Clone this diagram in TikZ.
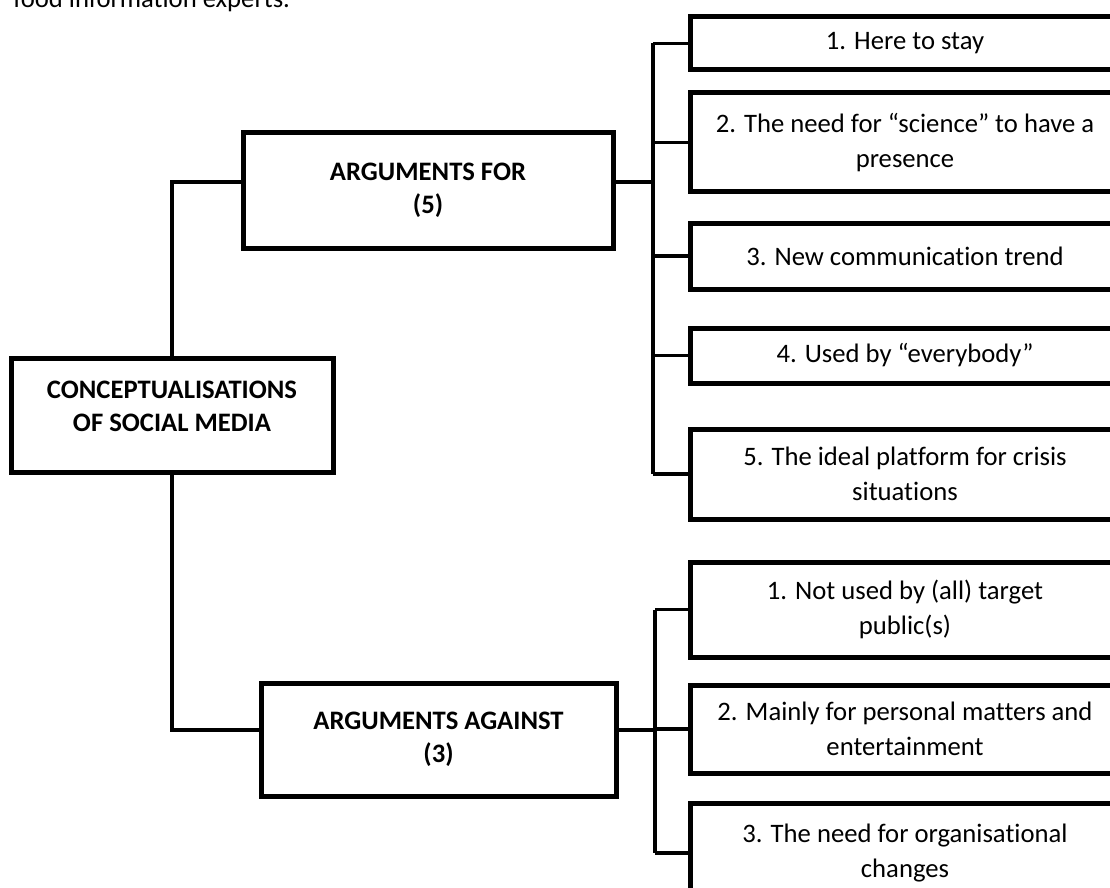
\documentclass[tikz,border=0pt]{standalone}
\usepackage{fontspec}
\setmainfont[Ligatures=NoCommon]{Carlito}
\usetikzlibrary{positioning,calc}

\begin{document}
\begin{tikzpicture}[x=0.75pt,y=-0.75pt,
    box/.style={draw=black, line width=3.75pt, fill=white, align=center, inner sep=0pt,
        font=\fontsize{20}{26}\selectfont},
    headbox/.style={box, font=\fontsize{20}{25}\selectfont\bfseries},
    itembox/.style={box, minimum width=322.5pt},
    link/.style={draw=black, line width=2.4pt}]
    \useasboundingbox (0,0) rectangle (1110,888);

    % Caption line cut off at the top
    \node[anchor=base west, inner sep=0pt, font=\fontsize{20}{26}\selectfont] (caption) at (13,8) {food information experts.};

    % Trunk positions
    \coordinate (fortrunk) at (653,0);
    \coordinate (againsttrunk) at (655,0);

    % Root and the two groups
    \node[headbox, minimum width=241.5pt, minimum height=85.5pt] (root) at (172,415) {CONCEPTUALISATIONS\\OF SOCIAL MEDIA\\[-12pt]\mbox{}};
    \node[headbox, minimum width=277.5pt, minimum height=86.25pt] (forbox) at (428,190.5) {ARGUMENTS FOR\\(5)};
    \node[headbox, minimum width=266.25pt, minimum height=84.75pt] (againstbox) at (438.5,739.5) {ARGUMENTS AGAINST\\(3)};

    % Arguments for
    \node[itembox, minimum height=39.75pt] (for1) at (905,43.5) {1. Here to stay};
    \node[itembox, minimum height=74.25pt] (for2) at (905,142.5) {2. The need for “science” to have a\\presence};
    \node[itembox, minimum height=49.5pt] (for3) at (905,256) {3. New communication trend};
    \node[itembox, minimum height=41.25pt] (for4) at (905,355.5) {4. Used by “everybody”};
    \node[itembox, minimum height=67.5pt] (for5) at (905,474) {5. The ideal platform for crisis\\situations};

    % Arguments against
    \node[itembox, minimum height=71.25pt] (against1) at (905,609.5) {1. Not used by (all) target\\public(s)};
    \node[itembox, minimum height=66pt] (against2) at (905,729) {2. Mainly for personal matters and\\entertainment};
    \node[itembox, minimum height=75pt] (against3) at (905,853) {3. The need for organisational\\changes};

    % Connections
    \draw[link] (root.north) |- ([yshift=6.4pt]forbox.west);
    \draw[link] (root.south) |- ([yshift=7.1pt]againstbox.west);

    \draw[link] ([yshift=6.4pt]forbox.east) -- ([yshift=6.4pt]forbox.east -| fortrunk);
    \draw[link] (for1.west -| fortrunk) -- (for5.west -| fortrunk);
    \foreach \i in {1,...,5}
        \draw[link] (for\i.west -| fortrunk) -- (for\i.west);

    \draw[link] ([yshift=7.1pt]againstbox.east) -- ([yshift=7.1pt]againstbox.east -| againsttrunk);
    \draw[link] (against1.west -| againsttrunk) -- (against3.west -| againsttrunk);
    \foreach \i in {1,2,3}
        \draw[link] (against\i.west -| againsttrunk) -- (against\i.west);
\end{tikzpicture}
\end{document}
